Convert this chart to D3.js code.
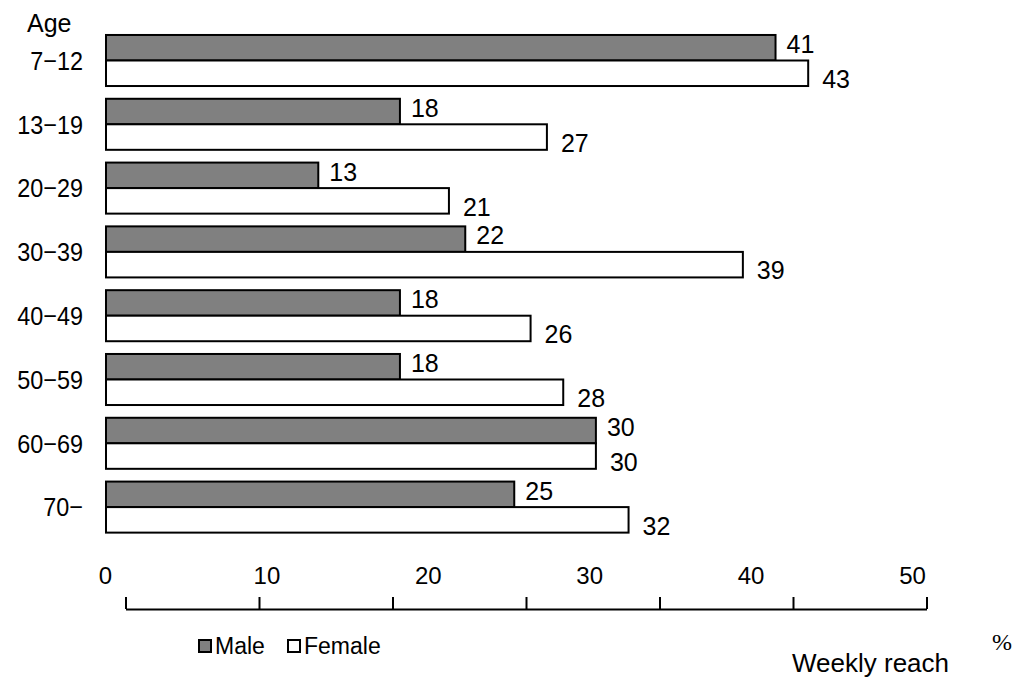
<!DOCTYPE html>
<html>
<head>
<meta charset="utf-8">
<script src="https://cdn.jsdelivr.net/npm/d3@7"></script>
<style>
  html, body { margin: 0; padding: 0; background: #fff; }
  svg { display: block; font-family: "Liberation Sans", Arial, sans-serif; }
</style>
</head>
<body>
<svg id="chart" width="1015" height="679"></svg>
<script>
// Weekly reach by age group (%)
const ageGroups = ["7−12", "13−19", "20−29", "30−39", "40−49", "50−59", "60−69", "70−"];
const maleValues = [41, 18, 13, 22, 18, 18, 30, 25];
const femaleValues = [43, 27, 21, 39, 26, 28, 30, 32];
const seriesNames = ["Male", "Female"];
const axisTickValues = [0, 10, 20, 30, 40, 50];

const svg = d3.select("#chart");

const x = d3.scaleLinear().domain([0, 50]).range([106, 922.5]);
const xLabel = d3.scaleLinear().domain([0, 50]).range([105, 912]);

const y = d3.scaleBand()
  .domain(ageGroups)
  .range([28.6, 539])
  .paddingInner(0.2)
  .paddingOuter(0.1);

const inner = d3.scaleBand()
  .domain(seriesNames)
  .range([0, y.bandwidth()]);

const fills = { Male: "#808080", Female: "#ffffff" };

const rows = ageGroups.map((g, i) => ({
  group: g,
  values: [
    { series: "Male", value: maleValues[i] },
    { series: "Female", value: femaleValues[i] }
  ]
}));

const groupSel = svg.append("g").selectAll("g")
  .data(rows)
  .join("g")
  .attr("transform", d => `translate(0,${y(d.group)})`);

groupSel.selectAll("rect")
  .data(d => d.values)
  .join("rect")
  .attr("x", x(0))
  .attr("y", d => inner(d.series))
  .attr("width", d => x(d.value) - x(0))
  .attr("height", inner.bandwidth())
  .attr("fill", d => fills[d.series])
  .attr("stroke", "#000")
  .attr("stroke-width", 2);

// value labels beside each bar
groupSel.selectAll("text.val")
  .data(d => d.values)
  .join("text")
  .attr("class", "val")
  .attr("x", d => x(d.value) + (d.series === "Male" ? 11 : 14))
  .attr("y", d => d.series === "Male" ? inner(d.series) + 18 : inner(d.series) + inner.bandwidth() + 2)
  .attr("font-size", 25)
  .attr("fill", "#000")
  .text(d => d.value);

// age category labels (slightly condensed)
svg.append("g").selectAll("text")
  .data(ageGroups)
  .join("text")
  .attr("transform", d => `translate(83,${y(d) + y.bandwidth() / 2}) scale(0.9,1)`)
  .attr("dy", "0.36em")
  .attr("text-anchor", "end")
  .style("font-size", "26px")
  .text(d => d);

svg.append("text")
  .attr("x", 27)
  .attr("y", 32)
  .attr("font-size", 25)
  .text("Age");

// numeric scale labels
const labelAxis = svg.append("g")
  .attr("transform", "translate(0,584)")
  .call(d3.axisTop(xLabel).tickValues(axisTickValues).tickSize(0).tickPadding(0).tickFormat(d3.format("d")));
labelAxis.select(".domain").remove();
labelAxis.selectAll("text")
  .attr("font-size", 24)
  .attr("font-family", "Liberation Sans, Arial, sans-serif")
  .attr("fill", "#000")
  .attr("dy", 0);

// ruled base line with tick marks
const ruler = d3.scaleLinear().domain([0, 6]).range([125.5, 926.5]);
const rulerAxis = svg.append("g")
  .attr("transform", "translate(0,609)")
  .call(d3.axisTop(ruler).tickValues(d3.range(7)).tickSize(12).tickSizeOuter(0).tickFormat(""));
rulerAxis.select(".domain").attr("stroke", "#000").attr("stroke-width", 2);
rulerAxis.selectAll(".tick line").attr("stroke", "#000").attr("stroke-width", 2);

// legend
const legend = svg.append("g");
const legendItems = [
  { name: "Male", x: 199 },
  { name: "Female", x: 288 }
];
legend.selectAll("rect")
  .data(legendItems)
  .join("rect")
  .attr("x", d => d.x)
  .attr("y", 640)
  .attr("width", 12)
  .attr("height", 12)
  .attr("fill", d => fills[d.name])
  .attr("stroke", "#000")
  .attr("stroke-width", 2);
legend.selectAll("text")
  .data(legendItems)
  .join("text")
  .attr("x", d => d.x + 16)
  .attr("y", 654)
  .attr("font-size", 23)
  .text(d => d.name);

svg.append("text")
  .attr("x", 792)
  .attr("y", 672)
  .attr("font-size", 26)
  .text("Weekly reach");

svg.append("text")
  .attr("x", 992)
  .attr("y", 650)
  .attr("font-size", 24)
  .attr("font-family", "Liberation Serif, serif")
  .text("%");
</script>
</body>
</html>
